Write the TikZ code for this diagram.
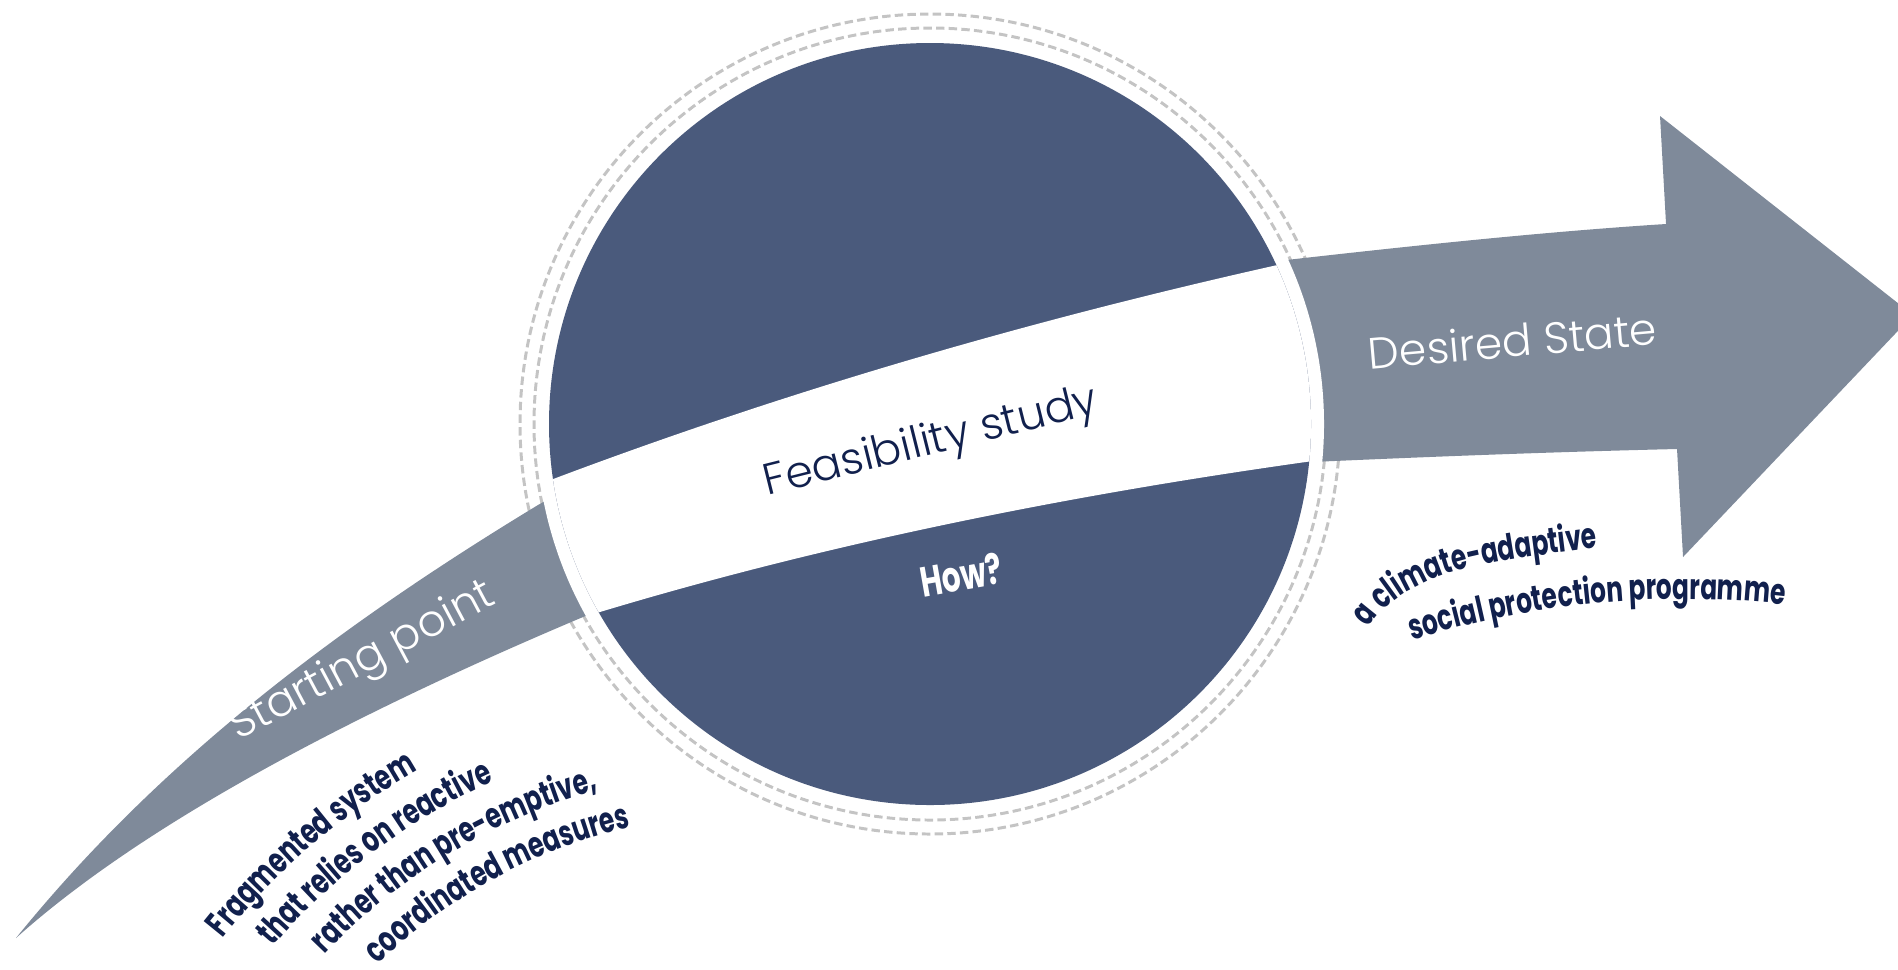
\documentclass[tikz,border=0pt]{standalone}
\usepackage{fontspec}
\usetikzlibrary{decorations.text}
\setmainfont{Poppins}
\IfFontExistsTF{Poppins Light}{\newfontfamily\thinfont{Poppins Light}}{\newfontfamily\thinfont{Poppins}}
\newfontfamily\heavyfont{Poppins}[FakeStretch=0.70]
\definecolor{circblue}{RGB}{74,90,124}
\definecolor{arrowgray}{RGB}{127,138,154}
\definecolor{dashgray}{RGB}{196,196,196}
\definecolor{navy}{RGB}{17,32,77}
\newcommand{\heavytext}{\heavyfont\bfseries\fontsize{10.1}{12}\selectfont\color{navy}}
\tikzset{
  dashring/.style={draw=dashgray, line width=0.85pt, dash pattern=on 2.4pt off 1.2pt},
  thinlabel/.style={font=\thinfont\fontsize{12.5}{15}\selectfont, inner sep=0pt},
  heavylabel/.style={font=\heavyfont\bfseries\fontsize{12}{14}\selectfont, inner sep=0pt},
  curvetext/.style={decorate, decoration={text along path, text align=left, text={|\heavytext|#1}}}
}
\begin{document}
\begin{tikzpicture}[x=0.01cm, y=0.01cm]
\useasboundingbox (0,0) rectangle (1898,-969);
\clip (0,0) rectangle (1898,-969);
% dashed rings
\foreach \r in {396,410} \draw[dashring] (930,-424) circle[radius=\r];
% left gray piece
\fill[arrowgray] (16,-938) .. controls (160,-760) and (340,-625) .. (538,-505)
  -- (585,-478) -- (625,-600) -- (583,-617)
  .. controls (320,-728) and (131,-835) .. cycle;
% right gray arrow
\fill[arrowgray] (1260,-263) .. controls (1400,-247) and (1540,-232) .. (1666,-224)
  -- (1660,-116) -- (1913,-315) -- (1683,-557) -- (1677,-449)
  .. controls (1550,-452) and (1420,-457) .. (1290,-463) -- cycle;
% white ring and blue disc
\fill[white] (930,-424) circle[radius=394];
\fill[circblue] (930,-424) circle[radius=381];
% white band across the disc
\begin{scope}
  \clip (930,-424) circle[radius=381];
  \fill[white] (510,-480) -- (540,-484) .. controls (776.7,-394) and (1030,-319.3) .. (1300,-260)
    -- (1345,-252) -- (1355,-458) -- (1320,-460)
    .. controls (1050,-497.3) and (806.7,-549) .. (590,-615) -- (555,-645) -- cycle;
\end{scope}
% labels
\node[thinlabel, text=white, rotate=28, anchor=base] (start) at (368,-672) {Starting point};
\node[thinlabel, text=navy, rotate=14, anchor=base] (feas) at (934,-454) {Feasibility study};
\node[thinlabel, text=white, rotate=5, anchor=base] (desired) at (1514,-357) {Desired State};
\node[heavylabel, text=white, rotate=10, anchor=base] (how) at (964,-590) {How?};
% curved texts, left
\begin{scope}[shift={(758,-1364)}]
  \path[curvetext={Fragmented system}] (141.5:684) arc[start angle=141.5, end angle=95, radius=684];
  \path[curvetext={that relies on reactive}] (139.3:640) arc[start angle=139.3, end angle=90, radius=640];
  \path[curvetext={rather than pre-emptive,}] (136.6:596) arc[start angle=136.6, end angle=85, radius=596];
  \path[curvetext={coordinated measures}] (133.6:552) arc[start angle=133.6, end angle=85, radius=552];
\end{scope}
% curved texts, right
\path[curvetext={a climate-adaptive}] (1368,-628) .. controls (1414,-562) and (1513,-560) .. (1612,-546) -- ++(8:90);
\begin{scope}[shift={(1683,-1509)}]
  \path[curvetext={social protection programme}] (107.3:910) arc[start angle=107.3, end angle=72, radius=910];
\end{scope}
\end{tikzpicture}
\end{document}
